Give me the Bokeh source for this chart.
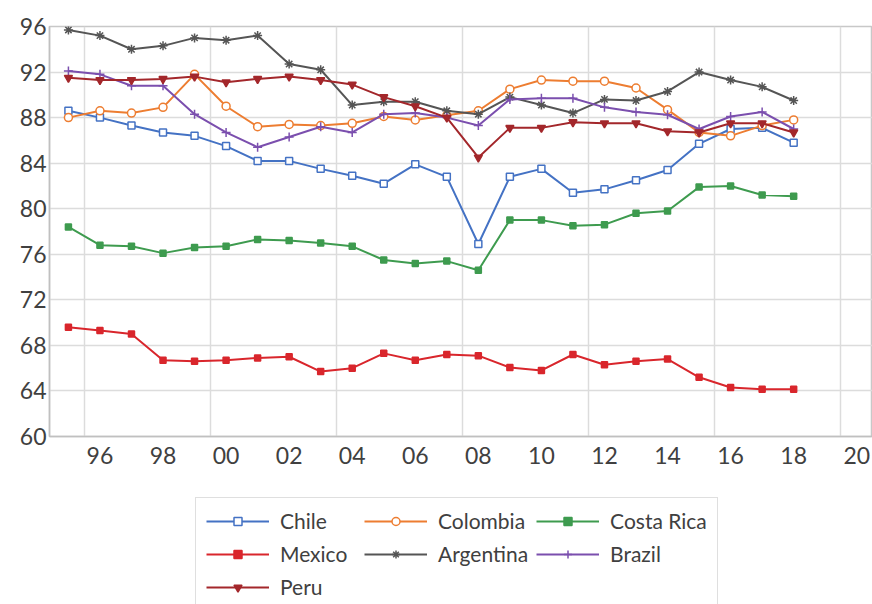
from bokeh.plotting import figure
from bokeh.layouts import column
from bokeh.models import Range1d, FixedTicker, Legend, LegendItem
from bokeh.embed import file_html
from bokeh.resources import INLINE

years = list(range(1995, 2019))

chile = [88.6, 88.0, 87.3, 86.7, 86.4, 85.5, 84.2, 84.2, 83.5, 82.9, 82.2, 83.9,
         82.8, 76.9, 82.8, 83.5, 81.4, 81.7, 82.5, 83.4, 85.7, 87.0, 87.1, 85.8]
colombia = [88.0, 88.6, 88.4, 88.9, 91.8, 89.0, 87.2, 87.4, 87.3, 87.5, 88.1, 87.8,
            88.2, 88.6, 90.5, 91.3, 91.2, 91.2, 90.6, 88.7, 86.7, 86.4, 87.3, 87.8]
costa_rica = [78.4, 76.8, 76.7, 76.1, 76.6, 76.7, 77.3, 77.2, 77.0, 76.7, 75.5, 75.2,
              75.4, 74.6, 79.0, 79.0, 78.5, 78.6, 79.6, 79.8, 81.9, 82.0, 81.2, 81.1]
mexico = [69.6, 69.3, 69.0, 66.7, 66.6, 66.7, 66.9, 67.0, 65.7, 66.0, 67.3, 66.7,
          67.2, 67.1, 66.05, 65.8, 67.2, 66.3, 66.6, 66.8, 65.2, 64.3, 64.15, 64.15]
argentina = [95.7, 95.2, 94.0, 94.3, 95.0, 94.8, 95.2, 92.7, 92.2, 89.1, 89.4, 89.4,
             88.6, 88.3, 89.8, 89.1, 88.4, 89.6, 89.5, 90.3, 92.0, 91.3, 90.7, 89.5]
brazil = [92.1, 91.8, 90.8, 90.8, 88.3, 86.7, 85.4, 86.3, 87.2, 86.7, 88.3, 88.4,
          88.0, 87.3, 89.6, 89.7, 89.7, 88.9, 88.5, 88.25, 87.0, 88.1, 88.5, 87.0]
peru = [91.5, 91.3, 91.3, 91.4, 91.6, 91.1, 91.4, 91.6, 91.3, 90.9, 89.8, 89.0,
        88.0, 84.5, 87.1, 87.1, 87.6, 87.5, 87.5, 86.8, 86.7, 87.5, 87.5, 86.7]

x_tick_years = [1996, 1998, 2000, 2002, 2004, 2006, 2008, 2010, 2012, 2014, 2016, 2018, 2020]
x_tick_labels = ["96", "98", "00", "02", "04", "06", "08", "10", "12", "14", "16", "18", "20"]
x_grid_pos = [1995.5, 1999.5, 2003.5, 2007.5, 2011.5, 2015.5, 2019.5]
y_ticks = [60, 64, 68, 72, 76, 80, 84, 88, 92, 96]

series = [
    ("Chile", chile, "#4472C4", "square", 7, "white"),
    ("Colombia", colombia, "#ED7D31", "circle", 8, "white"),
    ("Costa Rica", costa_rica, "#3E9B4F", "square", 6, None),
    ("Mexico", mexico, "#D9262C", "square", 6, None),
    ("Argentina", argentina, "#555555", "asterisk", 9, None),
    ("Brazil", brazil, "#7B4FAE", "cross", 9, None),
    ("Peru", peru, "#A3272B", "inverted_triangle", 8, None),
]

font = "Lato"

p = figure(width=872, height=475, output_backend="svg", toolbar_location=None,
           x_range=Range1d(1994.4, 2020.5), y_range=Range1d(60, 96),
           min_border_left=49, min_border_top=26, min_border_right=0,
           min_border_bottom=39)
p.outline_line_color = "#c8c8c8"
p.outline_line_width = 1.5

for ax in (p.xaxis[0], p.yaxis[0]):
    ax.axis_line_color = "#c0c0c0"
    ax.axis_line_width = 1.5
    ax.major_tick_line_color = None
    ax.minor_tick_line_color = None
    ax.major_tick_out = 0
    ax.major_tick_in = 0
    ax.major_label_text_font = font
    ax.major_label_text_font_size = "23px"
    ax.major_label_text_color = "#404040"

p.xaxis.ticker = FixedTicker(ticks=x_tick_years)
p.xaxis.major_label_overrides = {y: l for y, l in zip(x_tick_years, x_tick_labels)}
p.xaxis.major_label_standoff = 10
p.yaxis.ticker = FixedTicker(ticks=y_ticks)
p.yaxis.major_label_standoff = 3

p.xgrid.ticker = FixedTicker(ticks=x_grid_pos)
p.ygrid.ticker = FixedTicker(ticks=y_ticks)
for g in (p.xgrid[0], p.ygrid[0]):
    g.grid_line_color = "#dcdcdc"
    g.grid_line_width = 1.5

# legend figure (holds the legend below the chart); its series sit outside its view
pl = figure(width=872, height=129, output_backend="svg", toolbar_location=None,
            x_axis_type=None, y_axis_type=None,
            x_range=Range1d(0, 1), y_range=Range1d(0, 1),
            min_border_left=49, min_border_top=0, min_border_right=0,
            min_border_bottom=0)
pl.outline_line_color = None
pl.xgrid.visible = False
pl.ygrid.visible = False

items = []
for name, vals, color, marker, size, fill in series:
    fc = fill if fill else color
    p.line(years, vals, line_color=color, line_width=2)
    p.scatter(years, vals, marker=marker, size=size, line_color=color,
              fill_color=fc, line_width=1.5)
    l1 = pl.line(years, vals, line_color=color, line_width=2)
    l2 = pl.scatter(years, vals, marker=marker, size=size, line_color=color,
                    fill_color=fc, line_width=1.5)
    items.append(LegendItem(label=name, renderers=[l1, l2]))

legend = Legend(items=items, ncols=3, orientation="horizontal")
legend.location = (146, -6)
legend.label_text_font = font
legend.label_text_font_size = "21px"
legend.label_text_color = "#404040"
legend.glyph_width = 63
legend.glyph_height = 20
legend.label_standoff = 11
legend.label_width = 76
legend.spacing = 8
legend.padding = 10
legend.margin = 0
legend.border_line_color = "#c0c0c0"
legend.border_line_width = 1.5
legend.background_fill_alpha = 1.0
pl.add_layout(legend, "center")

open("out.html", "w").write(file_html(column(p, pl), INLINE))
